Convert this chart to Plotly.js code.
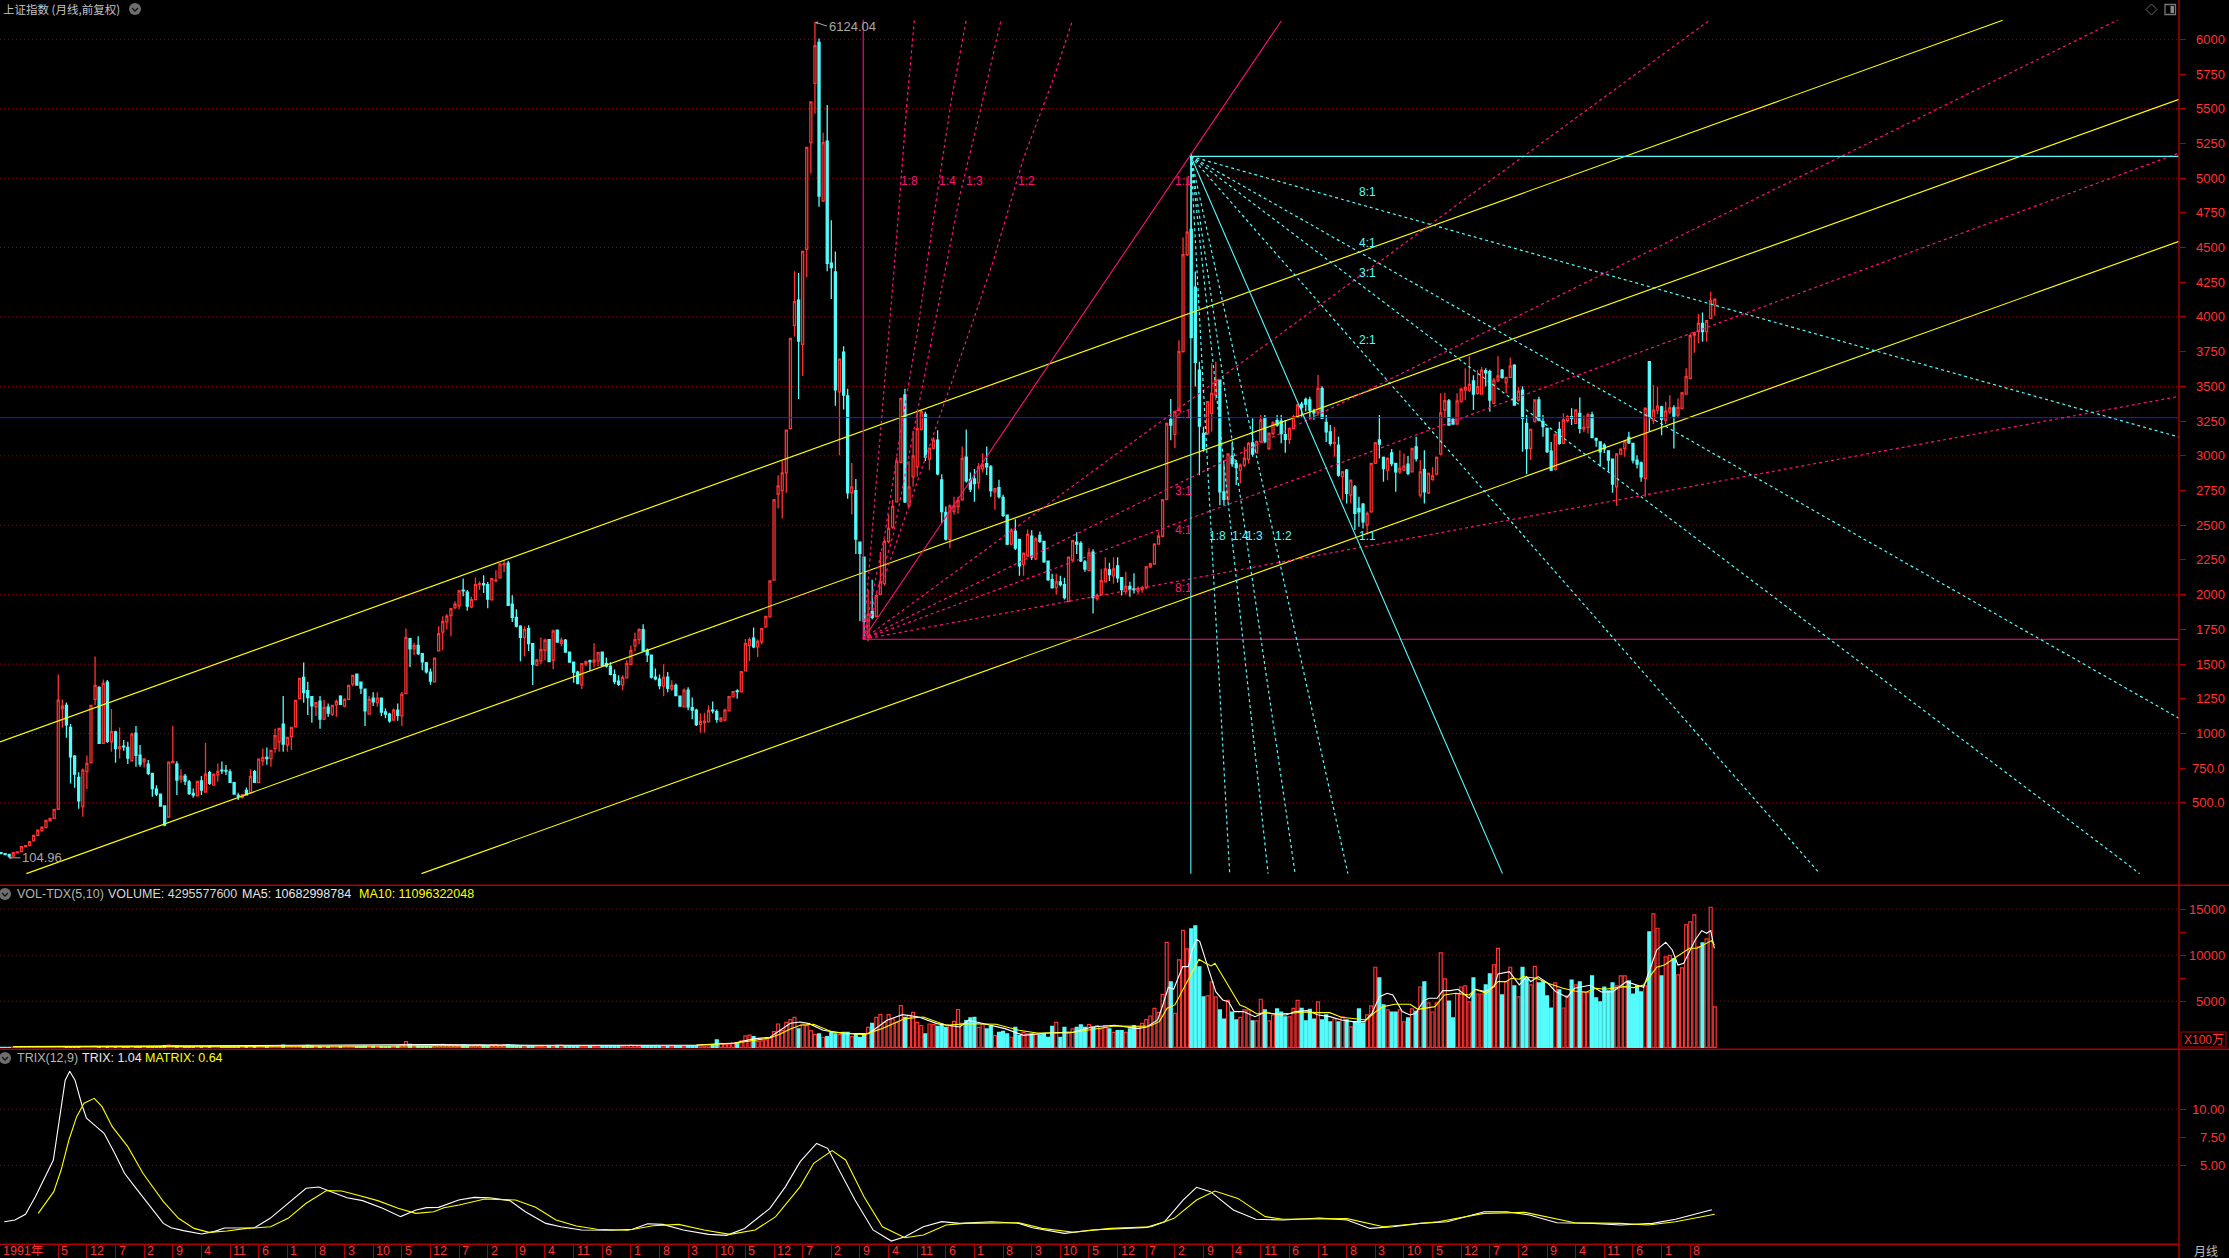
<!DOCTYPE html>
<html><head><meta charset="utf-8">
<script src="https://cdn.plot.ly/plotly-3.0.1.min.js"></script>
<style>html,body{margin:0;padding:0;background:#000}#c{width:2229px;height:1258px}</style>
</head><body><div id="c"></div>
<script>
// [open, high, low, close], one list per stretch of the chart
const ohlc1990s=[[142,145,133,135],[135,136,127,128],[129,130,105,118],[118,145,116,142],[140,150,138,148],[149,186,148,185],[185,194,184,192],[193,222,192,221],[228,267,226,266],[266,306,265,305],[300,326,299,325],[322,376,321,375],[372,390,371,389],[389,455,388,454],[456,1426,450,1241],[1178,1246,1042,1198],[1203,1224,970,1063],[1044,1068,641,833],[838,845,610,708],[684,722,459,516],[473,749,401,737],[725,842,600,785],[790,1205,785,1203],[1246,1555,1205,1347],[1332,1340,925,929],[929,1390,925,1361],[1370,1385,934,943],[941,1176,869,1013],[1011,1020,790,891],[891,1044,821,903],[910,953,876,905],[900,941,780,823],[804,1008,800,996],[1003,1054,761,843],[845,917,761,780],[797,818,756,818],[780,809,701,713],[713,713,545,603],[600,627,550,564],[564,564,473,478],[478,480,333,341],[399,796,396,794],[790,1054,790,800],[780,800,557,665],[672,744,646,694],[694,708,629,658],[651,665,557,569],[569,605,538,557],[552,660,550,655],[658,694,557,593],[579,931,575,708],[718,732,629,641],[629,713,624,706],[703,785,653,727],[737,799,708,732],[734,773,701,730],[723,742,643,648],[646,653,564,564],[555,574,521,550],[540,564,533,559],[590,612,557,559],[574,742,572,689],[725,737,645,648],[646,818,645,816],[804,893,768,828],[828,900,775,819],[819,879,761,879],[891,1037,862,984],[941,1042,869,1037],[1068,1270,869,924],[919,972,869,972],[977,1044,881,1044],[1049,1239,1049,1239],[1251,1400,1245,1397],[1404,1512,1222,1294],[1308,1373,1133,1258],[1265,1270,1078,1200],[1193,1222,1126,1222],[1234,1270,1035,1104],[1104,1241,1097,1188],[1190,1217,1121,1147],[1140,1205,1126,1203],[1207,1246,1121,1231],[1270,1275,1205,1210],[1198,1255,1192,1246],[1246,1350,1245,1347],[1356,1424,1340,1419],[1428,1430,1345,1349],[1371,1375,1284,1327],[1320,1320,1054,1164],[1140,1270,1135,1246],[1255,1298,1198,1229],[1222,1298,1193,1255],[1255,1260,1126,1155],[1155,1181,1111,1140],[1140,1150,1078,1092],[1097,1181,1092,1169],[1169,1217,1092,1131]];
const ohlc2000s=[[1127,1300,1055,1283],[1288,1756,1285,1692],[1684,1690,1480,1610],[1610,1653,1565,1634],[1634,1701,1565,1576],[1576,1576,1456,1516],[1509,1516,1432,1444],[1442,1468,1351,1377],[1372,1548,1370,1543],[1595,1773,1590,1720],[1730,1845,1600,1807],[1804,1860,1749,1845],[1850,1905,1701,1900],[1907,1953,1895,1931],[1919,2033,1895,2028],[2033,2116,1989,2028],[2018,2033,1884,1917],[1912,1985,1903,1965],[1965,2124,1965,2073],[2073,2097,2033,2080],[2080,2140,2013,2071],[2073,2092,1903,1968],[1963,2121,1963,2116],[2100,2176,2090,2104],[2121,2229,2120,2220],[2215,2244,2162,2224],[2227,2245,1920,1924],[1931,1996,1804,1836],[1836,1895,1763,1773],[1773,1780,1521,1692],[1692,1773,1557,1749],[1756,1780,1595,1648],[1648,1648,1350,1499],[1492,1538,1485,1528],[1523,1691,1500,1605],[1600,1684,1528,1672],[1677,1680,1514,1518],[1528,1749,1463,1737],[1744,1749,1653,1658],[1650,1691,1629,1672],[1672,1680,1583,1586],[1586,1586,1511,1514],[1514,1514,1365,1442],[1442,1452,1355,1360],[1350,1505,1320,1504],[1502,1523,1485,1519],[1523,1533,1452,1519],[1514,1650,1475,1528],[1523,1585,1485,1583],[1586,1588,1488,1490],[1504,1548,1475,1485],[1485,1514,1420,1427],[1425,1461,1355,1374],[1377,1420,1343,1355],[1351,1420,1312,1404],[1401,1528,1399,1504],[1497,1634,1495,1598],[1631,1727,1595,1677],[1677,1759,1643,1749],[1749,1788,1590,1595],[1600,1612,1516,1567],[1564,1567,1396,1406],[1406,1468,1384,1394],[1391,1425,1319,1346],[1341,1499,1269,1404],[1406,1444,1298,1326],[1322,1384,1307,1346],[1346,1360,1271,1274],[1269,1272,1195,1197],[1192,1324,1190,1312],[1312,1334,1168,1192],[1187,1259,1103,1168],[1168,1178,1055,1065],[1065,1147,1007,1087],[1079,1150,1007,1089],[1084,1204,1083,1166],[1168,1230,1144,1163],[1158,1173,1077,1103],[1089,1120,1081,1110],[1096,1178,1086,1168],[1163,1268,1162,1266],[1264,1304,1262,1302],[1307,1319,1250,1302],[1300,1447,1298,1446],[1451,1680,1450,1648],[1636,1691,1523,1677],[1687,1764,1614,1624],[1624,1677,1552,1663],[1660,1758,1643,1756],[1768,1845,1762,1843],[1840,2100,1838,2100],[2105,2690,2100,2683],[2725,2860,2620,2783],[2749,2962,2549,2877],[2877,3190,2734,3185],[3196,3850,3190,3845],[3940,4330,3860,4110],[4122,4316,3410,3826],[3803,4475,3575,4472],[4487,5225,4287,5222],[5256,5550,5033,5549],[5683,6124,5464,5954],[5977,6005,4794,4871],[4837,5327,4828,5256],[5267,5526,4330,4387],[4387,4697,4130,4355],[4324,4472,3361,3475],[3461,3700,3005,3697],[3746,3789,3333,3438],[3432,3484,2691,2734],[2734,2948,2578,2777],[2749,2834,2293,2401],[2378,2380,1808,2298],[2270,2270,1700,1808]];
const ohlc2010s=[[1695,2037,1664,1860],[1880,2108,1823,1837],[1843,2008,1840,1993],[2002,2307,1998,2093],[2079,2400,2065,2384],[2384,2578,2370,2478],[2487,2683,2475,2635],[2669,2990,2665,2962],[2954,3420,2950,3412],[3438,3484,2660,2669],[2640,2962,2630,2777],[2848,3180,2780,2999],[2920,3333,2850,3196],[3190,3333,3180,3318],[3298,3318,2962,2991],[2977,3060,2897,3056],[3056,3133,3050,3113],[3113,3185,2860,2871],[2826,2868,2515,2598],[2592,2635,2390,2401],[2398,2650,2335,2640],[2600,2706,2578,2640],[2635,2706,2583,2678],[2683,3068,2677,2982],[2991,3190,2806,2820],[2830,2880,2740,2760],[2834,2905,2670,2800],[2806,2948,2763,2920],[2906,3019,2880,2934],[2943,3068,2862,2920],[2920,2934,2706,2749],[2740,2770,2612,2763],[2771,2828,2692,2706],[2700,2720,2560,2572],[2572,2578,2356,2364],[2364,2478,2356,2464],[2458,2544,2321,2336],[2398,2400,2136,2207],[2219,2300,2136,2299],[2279,2470,2270,2435],[2421,2464,2250,2270],[2259,2413,2250,2401],[2427,2455,2372,2384],[2384,2384,2230,2236],[2242,2245,2099,2108],[2108,2150,2042,2051],[2051,2150,2002,2093],[2093,2136,2059,2073],[2073,2122,1965,1979],[1951,2275,1945,2270],[2250,2393,2240,2390],[2378,2450,2293,2364],[2370,2384,2236,2244],[2236,2250,2165,2185],[2173,2335,2170,2301],[2307,2327,1865,1979],[1971,2008,1957,1994],[2000,2187,1997,2102],[2093,2270,2090,2185],[2179,2230,2099,2145],[2136,2270,2079,2185],[2207,2270,2088,2122],[2122,2128,1994,2037],[2022,2165,2002,2059],[2059,2093,1985,2037],[2042,2155,2008,2037],[2025,2059,2002,2045],[2037,2065,2014,2051],[2051,2207,2040,2201],[2201,2230,2190,2221],[2221,2370,2215,2364],[2364,2450,2360,2421],[2421,2690,2415,2683],[2686,3240,2680,3233],[3262,3409,3113,3222],[3154,3320,3054,3318],[3327,3833,3320,3751],[3751,4572,3745,4449],[4449,5000,4440,4611],[4631,5178,3848,3851],[4215,4327,3500,3673],[3618,3678,2861,3214],[3161,3210,3030,3053],[3161,3395,3150,3390],[3306,3666,3175,3450],[3438,3678,3400,3546],[3546,3550,2645,2741],[2741,2945,2645,2686],[2686,3020,2660,3012],[2998,3094,2921,2945],[2945,2970,2790,2916],[2897,2945,2801,2933],[2933,3066,2920,2981],[2974,3102,2945,3090],[3094,3270,2993,3013],[3022,3110,3017,3102],[3102,3294,3095,3258],[3270,3294,3090,3102],[3053,3170,3040,3161],[3161,3250,3150,3238],[3253,3295,3210,3222],[3250,3294,3090,3161],[3152,3258,3022,3118],[3118,3200,3085,3197],[3197,3294,3190,3282],[3277,3375,3270,3366],[3373,3390,3282,3349],[3406,3420,3320,3373],[3402,3425,3262,3330],[3318,3340,3260,3310],[3310,3582,3290,3486],[3486,3502,3265,3270],[3241,3294,3100,3173],[3173,3222,3073,3090],[3090,3210,2993,3097],[3077,3140,2850,2861],[2850,2890,2681,2885],[2897,2905,2657,2729],[2717,2830,2657,2825],[2777,2790,2465,2585],[2621,2705,2489,2597],[2652,2660,2477,2525],[2501,2600,2441,2585],[2597,2950,2590,2946],[2946,3100,2941,3094]];
const ohlc2020s=[[3114,3294,2980,3085],[2989,2995,2813,2909],[2897,2990,2825,2981],[3022,3050,2925,2945],[2945,2950,2741,2885],[2885,3041,2870,2909],[2897,3017,2890,2926],[2940,2998,2860,2873],[2885,3055,2880,3053],[3065,3137,2960,2981],[2717,2970,2700,2885],[2902,3041,2657,2741],[2734,2880,2725,2873],[2830,2920,2820,2856],[2869,2995,2860,2989],[3013,3450,3005,3310],[3330,3455,3270,3397],[3395,3410,3218,3222],[3262,3270,3225,3229],[3229,3450,3225,3395],[3390,3490,3385,3481],[3474,3630,3400,3493],[3474,3718,3460,3515],[3539,3580,3330,3445],[3450,3618,3440,3498],[3445,3640,3440,3618],[3613,3630,3500,3598],[3606,3620,3318,3402],[3378,3560,3370,3546],[3546,3718,3530,3575],[3618,3625,3555,3565],[3527,3570,3450,3565],[3565,3708,3560,3647],[3654,3660,3360,3366],[3402,3498,3390,3466],[3474,3502,3030,3270],[3234,3294,2868,3053],[3053,3195,2970,3190],[3246,3405,3240,3402],[3402,3425,3250,3258],[3246,3294,3138,3210],[3198,3205,3020,3030],[3034,3100,2890,2897],[2902,3160,2895,3154],[3190,3246,3080,3090],[3090,3306,3085,3258],[3253,3294,3240,3282],[3282,3342,3222,3270],[3234,3335,3230,3330],[3306,3420,3160,3198],[3195,3290,3170,3205],[3205,3310,3160,3294],[3294,3318,3125,3133],[3125,3130,3065,3113],[3101,3105,2921,3029],[3077,3090,3020,3050],[3036,3040,2885,2969],[2977,2980,2734,2797],[2777,3020,2638,3013],[3013,3055,3008,3049],[3053,3115,2993,3106],[3133,3173,3085,3094],[3089,3094,2945,2969],[2969,3005,2909,2940],[2950,2960,2813,2849],[2837,3350,2705,3342],[3678,3680,3173,3281],[3257,3510,3229,3329],[3329,3498,3300,3358],[3353,3360,3149,3262],[3257,3390,3229,3322],[3317,3437,3300,3346],[3346,3365,3053,3286],[3293,3413,3280,3349],[3341,3460,3335,3454],[3445,3630,3440,3570],[3558,3880,3550,3865],[3870,3894,3742,3886],[3894,4021,3810,3954],[3954,4033,3822,3894],[3894,3975,3822,3973],[3990,4182,3988,4117],[4086,4135,4009,4127]];

// volume in units of 100万
const volEarly=[5,5,8,10,12,15,15,20,20,25,25,30,30,35,30,60,40,40,35,30,40,55,80,90,85,70,75,70,65,60,55,50,50,45,40,35,40,35,45,70,180,230,150,120,90,70,60,50,55,60,75,110,70,60,55,50,45,40,50,60,70,90,120,150,130,110,130,170,190,240,160,130,100,120,160,200,170,110,100,90,80,120,110,90,100,130,120,100,90,140,110,90,80,70,60,70,90,120,280,610];
const volMiddle=[330,210,160,130,120,110,220,300,330,260,200,190,170,250,220,190,250,240,200,190,260,280,210,280,300,240,200,160,170,160,180,110,120,180,190,150,200,210,140,130,120,110,150,140,110,130,150,110,120,100,90,100,120,170,220,180,150,110,130,110,120,100,140,110,100,120,110,160,150,120,160,170,140,170,240,800,420,300,330,450,500,700,1230,1320,1150,650,700,800,1050,1700,2530,1800,2700,3000,3250];
const volBull=[2000,2530,2350,1810,1375,1450,1090,1160,1630,1450,1375,1630,1630,1160,1375,1090,1375,2170,2605,3260,3550,2715,3550,3080,2715,4525,3260,3475,3800,2715,2350,1450,2530,2460,2280,2530,2170,2350,2825,4090,2605,2895,3185,3260,2170,2530,1990,2280,1265,1630,1740,1450,1090,2170,1265,1630,1450,1450,1375,1340,1450,1090,2280,2715,1090,2170,1630,1990,2170,2425,2170,2460,2170,2350,1990,2350,1990,1630,1810,1810,1630,1990,2350,2200,2600,3000];
const volRecent=[3400,4235,3800,5755,11400,7095,3690,9485,12705,10680,12850,13180,8725,5465,5575,7095,5465,4055,3075,5105,3835,2970,3260,4055,4055,2860,2860,5215,4055,2860,3510,4165,3835,3295,3295,4235,5105,4235,2860,4125,3075,4925,2970,3510,2750,3075,2750,3295,2970,2210,2750,4165,2640,3510,4490,8690,7530,4600,4055,3835,3835,4055,2750,3185,4165,3910,6550,7095,4815,3835,4815,10245,7420,5030,3185,5790,6550,6660,4925,7530,5790,5790,6770,7965,8940,10750,5685,7095,8690,6660,5465,8690,7420,6770,8795,6985,7095,5575,4270,6985,6225,4270,5575,7310,6770,7095,6010,5935,7745,5360,4925,6550,6120,6985,6660,7745,7745,7205,5790,6660,6010,6660,12525,14480,12925,7745,9810,9990,9595,7855,8615,13285,13610,14370,10895,11330,11765,15205,4380];

const ma5Index=[3,40,41,60,100,105,130,150,170,179.3,184.3,188,190.5,193,195.4,197.6,201,206.5,212.1,216.6,220.4,224.4,228.8,234.4,236.6,240,245.5,250,255.6,262.3,266.7,272.3,277.9,280.1,282.8,284.2,285.4,286.7,288.9,290.3,291.2,292.3,293.1,294.5,295.9,297,298.7,300.1,301.5,303.8,306.6,309,311.8,314.1,316.4,319.3,322.1,324.9,327.7,330.5,333.3,335.2,337,338.9,340.3,342.6,344.5,345.9,347.8,349.2,351.1,352.5,354.3,356.2,359,360.4,362.8,365.1,366,368.8,371.2,373,374,375.8,378.2,380.1,382.9,384.7,388.5,391.3,394.1,397.4,401.6,403,404.8,407,408.6,410,411.4,414.2,415.8,417,418,418.9];
const ma5Values=[70,130,200,150,220,300,220,220,250,470,940,1085,1810,2605,2750,2570,1845,1485,1485,2930,3550,3295,2570,2210,2930,2570,2030,1300,1555,1665,2210,2390,2025,2210,2970,4780,6515,6300,8760,8760,10570,11730,11475,9485,7675,6045,5140,4960,3875,3875,3330,3800,3585,3510,3875,3980,3510,3330,2970,2785,2785,3690,5500,5865,5685,3875,3510,3690,5070,5320,5320,6155,6155,6300,5320,6300,6045,6590,7965,8215,6770,7675,7130,7675,6950,6045,5430,6405,6735,6010,6045,7130,6515,8400,10570,11405,10570,8940,9120,11655,12670,12380,12670,10750];
const ma10Index=[3,50,100,130,150,170,179.3,184.3,188,190.5,193,195.4,198.7,203.2,211,215.5,221,225.5,231.1,236.6,243.3,248.9,253.3,261.1,266.7,272.3,279,280.9,283.2,285.1,287,288.9,290.7,292.9,294.5,295.9,296.8,299.1,300.5,302.9,304.3,307.1,309,311.8,315.5,318.3,322.1,324.9,327.7,331.4,333.8,336.1,338,340.8,344.5,346.4,350.6,352.9,355.7,359,360.4,363.2,366,367.9,369.3,371.2,372.1,375.4,378.2,381.9,384.7,387.5,389.9,392.2,396.9,399.2,401.6,404.8,406.7,409.5,412.8,414.7,416.1,418.2,418.9];
const ma10Values=[60,130,180,200,220,230,435,795,1015,1450,1990,2390,2500,1665,1375,2030,3115,3295,2390,2570,2500,1845,1555,1555,1920,2315,2280,2315,2785,4235,4600,6225,7675,9555,9120,8835,9120,7385,6405,4600,4345,3620,3765,3620,3690,3835,3765,3765,3260,3075,2970,3875,4415,4670,4670,4125,4415,5685,5865,5685,6300,5865,7130,7130,7495,7385,7675,7495,6950,6405,6120,5975,6405,6300,6590,6480,6770,8690,8940,9775,10750,10750,11115,11585,11115];

const trixIndex=[0.8,3.4,6,8.4,12.8,14.7,15.7,16.8,18.1,19.7,20.9,23.3,25.2,27.8,30.2,32.7,35.9,39.7,41.6,44.6,49,52.1,54.6,58.4,62,65.8,70.8,74.6,77.7,80.8,84.6,88.4,93.3,97.7,101.5,104,107,111.9,115.7,119.4,124.4,128.2,133.2,136.9,141.9,149.4,154.4,158.1,161.8,166.8,173,177.4,181.8,188,191.8,195.4,199.4,202.1,205.4,208.8,213.2,217.7,221,225.5,230,234.4,242.2,248.9,252.2,260,266.7,280.1,284.5,289,292.3,295.7,301.3,306.8,313.5,322.4,329.1,334.7,340.3,346.9,353.6,362.6,368.1,373.7,380.4,389.3,396,403.8,409.4,418.3];
const trixValues=[-0.03,0.12,0.63,2.2,5.48,9.94,12.6,13.4,12.6,10.5,9.2,8.45,7.86,6.07,4.29,3.1,1.6,-0.18,-0.57,-0.83,-1.13,-0.92,-0.6,-0.57,-0.57,0.27,1.76,2.95,3.07,2.65,2.11,1.85,1.16,0.42,1.01,1.22,1.25,1.9,2.14,2.11,1.85,0.86,-0.18,-0.48,-0.77,-0.8,-0.71,-0.21,-0.27,-0.77,-1.16,-1.25,-0.63,1.16,3.1,5.33,6.96,6.52,4.29,1.9,-0.77,-1.76,-1.37,-0.48,-0.03,-0.18,-0.03,-0.18,-0.57,-1.07,-0.77,-0.54,-0.03,1.9,3.04,2.65,1.01,0.18,0.12,0.3,0.12,-0.63,-0.48,-0.18,-0.03,0.86,0.86,0.57,-0.12,-0.18,-0.33,-0.18,0.18,1.04];
const matrixIndex=[9.1,12.9,14.7,16.6,18.5,20.3,22.8,24.7,27.2,31,34.7,39.7,43.4,47.2,50.9,55.3,59.6,65.9,70.2,74.6,79.6,83.3,87.1,92.1,97.1,101.4,105.8,108.3,112,118.3,125.8,130.7,135.7,140.7,145.7,153.2,159.4,165.7,171.9,178.2,184.4,189.4,195.4,198.7,203.2,206.5,211,215.5,221,225.5,231.1,235.5,248.9,254.5,262.3,271.2,281.2,286.8,292.3,296.8,302.4,309.1,313.5,329.1,338,351.4,362.6,372.6,384.8,396,402.7,409.4,419];
const matrixValues=[0.71,2.65,4.58,7.26,9.35,10.54,10.98,10.24,8.45,6.67,4.29,1.76,0.27,-0.63,-0.98,-0.86,-0.65,-0.48,0.27,1.61,2.74,2.71,2.35,1.85,1.16,0.71,0.86,1.22,1.46,1.99,1.9,1.25,0.12,-0.42,-0.71,-0.8,-0.39,-0.27,-0.77,-1.16,-0.77,0.42,3.1,5.18,6.31,5.48,2.2,-0.48,-1.46,-1.22,-0.33,-0.18,-0.12,-0.63,-0.98,-0.63,-0.48,0.27,1.9,2.71,2.05,0.42,0.18,0.24,-0.48,-0.03,0.71,0.8,-0.12,-0.18,-0.33,-0.03,0.64];

// axis tick values and labels
const priceTicks=[6000,5750,5500,5250,5000,4750,4500,4250,4000,3750,3500,3250,3000,2750,2500,2250,2000,1750,1500,1250,1000,750,500];
const priceLabels=['6000','5750','5500','5250','5000','4750','4500','4250','4000','3750','3500','3250','3000','2750','2500','2250','2000','1750','1500','1250','1000','750.0','500.0'];
const priceGrid=[6000,5500,5000,4500,4000,3500,3000,2500,2000,1500,1000,500];
const volTicks=[15000,12500,10000,7500,5000];
const volLabels=['15000','','10000','','5000'];
const volGrid=[15000,10000,5000];
const trixTicks=[10,7.5,5];
const trixLabels=['10.00','7.50','5.00'];
const trixGrid=[10,5];
const timeTicks=[14,21,28,35,42,49,56,63,70,77,84,91,98,105,112,119,126,133,140,147,154,161,168,175,182,189,196,203,210,217,224,231,238,245,252,259,266,273,280,287,294,301,308,315,322,329,336,343,350,357,364,371,378,385,392,399,406,413];
const timeLabels=['5','12','7','2','9','4','11','6','1','8','3','10','5','12','7','2','9','4','11','6','1','8','3','10','5','12','7','2','9','4','11','6','1','8','3','10','5','12','7','2','9','4','11','6','1','8','3','10','5','12','7','2','9','4','11','6','1','8'];

// drawn studies: [month index list, price list]
const channelTop=[[-0.24,489.4],[940,6137]];
const channelMid=[[6.2,532.5],[-9,5568]];
const channelLow=[[102.8,532.5],[-9,4545]];
const horizontalBlue=3275;
const riseFanSolid=[[210.8,313],[1679,6132]];
const riseRay18=[[210.8,212.9,215.3,218.6,221.4,223.3],[1679,2436,3293,4431,5512,6139]];
const riseRay14=[[210.8,216.1,219.8,223.9,228,232.4,236],[1679,2436,3149,3862,4712,5570,6139]];
const riseRay13=[[210.8,218.2,223.9,230,234.5,239.4,244.5],[1679,2436,3293,4201,4885,5483,6139]];
const riseRay12=[[210.8,220.6,229.6,237.7,242.6,250,257.3,262],[1679,2522,3293,3974,4403,5145,5714,6139]];
const riseRay21=[[210.8,417.8],[1679,6139]];
const riseRay31=[[210.8,517.5],[1679,6139]];
const riseRay41=[[210.8,532.5],[1679,5181]];
const riseRay81=[[210.8,532.5],[1679,3428]];
const riseBoxV=[[210.8,210.8],[1679,6140]];
const riseBoxH=[[210.8,532.5],[1679,1679]];
const fallOrigin=[290.9,5157];
const fallBoxV=[[290.9,290.9],[5157,-9]];
const fallBoxH=[[290.9,532.5],[5157,5157]];
const fallSolid=[[290.9,367.1],[5157,-9]];
const fallEndsX=[300.4,309.8,316.4,329.3,444.7,522.9,532.5,532.5];
const fallEndsY=[-9,-9,-9,-9,-9,-9,1110,3135];
const riseLabels=[['1:8',222,4979],['1:4',231.5,4979],['1:3',237.9,4979],['1:2',250.8,4979],['1:1',289.1,4979],['2:1',289.1,3302],['3:1',289.1,2748],['4:1',289.1,2468],['8:1',289.1,2050]];
const fallLabels=[['1:8',297.5,2423],['1:4',303,2423],['1:3',306.4,2423],['1:2',313.5,2423],['1:1',334.2,2423],['2:1',334.2,3831],['3:1',334.2,4316],['4:1',334.2,4532],['8:1',334.2,4900]];

const W=2229,H=1258,PLOT_R=2179;
const RED='#ff3232',CYAN='#54fcfc',DARK='#b00000',GRIDC='#a00000',PINK='#ff1278',YEL='#ffff00',GRAY='#a8a8a8';
const FONT='"Liberation Sans",Arial,sans-serif';
const ohlc=[...ohlc1990s,...ohlc2000s,...ohlc2010s,...ohlc2020s];
const volume=[...volEarly,...volMiddle,...volBull,...volRecent];
const idx=ohlc.map((_,i)=>i);
const px=x=>x/W, py=y=>1-y/H;

const traces=[];
const ln=(d,color,dash,width,extra)=>traces.push(Object.assign({type:'scatter',mode:'lines',x:d[0],y:d[1],line:{color,dash:dash||'solid',width:width||1},hoverinfo:'skip',showlegend:false,yaxis:'y',xaxis:'x'},extra||{}));

traces.push({type:'candlestick',x:idx,open:ohlc.map(r=>r[0]),high:ohlc.map(r=>r[1]),low:ohlc.map(r=>r[2]),close:ohlc.map(r=>r[3]),
  increasing:{line:{color:RED,width:1.3},fillcolor:'#000000'},decreasing:{line:{color:CYAN,width:1.3},fillcolor:CYAN},whiskerwidth:0,hoverinfo:'skip',showlegend:false,xaxis:'x',yaxis:'y'});

const DOT='3px,3px';
[channelTop,channelMid,channelLow].forEach(d=>ln(d,YEL,'solid',1.15));
ln([[-0.24,532.5],[horizontalBlue,horizontalBlue]],'#1a1aff','solid',1);
[riseBoxV,riseBoxH,riseFanSolid].forEach(d=>ln(d,PINK,'solid',1.1));
[riseRay18,riseRay14,riseRay13,riseRay12,riseRay21,riseRay31,riseRay41,riseRay81].forEach(d=>ln(d,PINK,DOT,1.2));
[fallBoxV,fallBoxH,fallSolid].forEach(d=>ln(d,CYAN,'solid',1.1));
fallEndsX.forEach((x,k)=>ln([[fallOrigin[0],x],[fallOrigin[1],fallEndsY[k]]],CYAN,DOT,1.2));

traces.push({type:'bar',x:idx,y:volume,width:0.72,xaxis:'x',yaxis:'y2',hoverinfo:'skip',showlegend:false,
  marker:{color:ohlc.map(r=>r[3]>=r[0]?'#000000':CYAN),line:{width:1.2,color:ohlc.map(r=>r[3]>=r[0]?RED:CYAN)}}});
ln([ma5Index,ma5Values],'#ffffff','solid',1.1,{yaxis:'y2'});
ln([ma10Index,ma10Values],YEL,'solid',1.1,{yaxis:'y2'});
ln([trixIndex,trixValues],'#ffffff','solid',1.1,{yaxis:'y3'});
ln([matrixIndex,matrixValues],YEL,'solid',1.1,{yaxis:'y3'});

// shapes
const shapes=[];
const gridline=(y,yref)=>shapes.push({type:'line',xref:'paper',x0:0,x1:px(PLOT_R),yref,y0:y,y1:y,layer:'below',line:{color:GRIDC,width:1,dash:'1px,3px'}});
priceGrid.forEach(v=>gridline(v,'y'));
volGrid.forEach(v=>gridline(v,'y2'));
trixGrid.forEach(v=>gridline(v,'y3'));
const sep=(x0,y0,x1,y1,w)=>shapes.push({type:'line',xref:'paper',yref:'paper',x0:px(x0),x1:px(x1),y0:py(y0),y1:py(y1),line:{color:DARK,width:w||1.6}});
sep(0,885.3,W,885.3);sep(0,1049.3,W,1049.3);sep(0,1244.3,PLOT_R,1244.3);sep(PLOT_R,0,PLOT_R,H,1.4);
const icon=(cx,cy)=>{
  shapes.push({type:'circle',xref:'paper',yref:'paper',x0:px(cx-6),x1:px(cx+6),y0:py(cy-6),y1:py(cy+6),fillcolor:'#6e6e6e',line:{width:0}});
  shapes.push({type:'path',xref:'paper',yref:'paper',path:`M${px(cx-3)},${py(cy-1)}L${px(cx)},${py(cy+2)}L${px(cx+3)},${py(cy-1)}`,line:{color:'#111',width:1.3}});
};
icon(135,9);icon(5,894);icon(5,1058);
shapes.push({type:'path',xref:'paper',yref:'paper',path:`M${px(2146)},${py(9.5)}L${px(2151.5)},${py(4)}L${px(2157)},${py(9.5)}L${px(2151.5)},${py(15)}Z`,line:{color:'#666',width:1}});
shapes.push({type:'rect',xref:'paper',yref:'paper',x0:px(2165),x1:px(2175.5),y0:py(4.5),y1:py(14.5),line:{color:'#777',width:1.3}});
shapes.push({type:'rect',xref:'paper',yref:'paper',x0:px(2170.5),x1:px(2174),y0:py(6),y1:py(13),fillcolor:'#888',line:{width:0}});
shapes.push({type:'rect',xref:'paper',yref:'paper',x0:px(2181),x1:px(2226),y0:py(1032),y1:py(1047),line:{color:DARK,width:1}});

// text
const ann=[];
const label=(t,x,y,color,size,font)=>ann.push({xref:'paper',yref:'paper',x:px(x),y:py(y),text:t,showarrow:false,xanchor:'left',yanchor:'middle',borderpad:0,font:{color,size,family:font||FONT}});
label('上证指数 (月线,前复权)',2,9,'#c4c4c4',11.5,'"Noto Sans CJK SC",sans-serif');
label('VOL-TDX(5,10)',16,894,'#b4b4b4',12.5);
label('VOLUME: 4295577600',107,894,'#d8d8d8',12.5);
label('MA5: 10682998784',241,894,'#e8e8e8',12.5);
label('MA10: 11096322048',358,894,YEL,12.5);
label('TRIX(12,9)',16,1058,'#b4b4b4',12.5);
label('TRIX: 1.04',81,1058,'#e8e8e8',12.5);
label('MATRIX: 0.64',144,1058,YEL,12.5);
label('1991年',2,1250.5,RED,12.5,'"Liberation Sans","Noto Sans CJK SC",sans-serif');
label('X100万',2183,1040,RED,12,'"Liberation Sans","Noto Sans CJK SC",sans-serif');
label('月线',2193,1250.5,'#bdbdbd',12,'"Noto Sans CJK SC",sans-serif');
timeTicks.forEach((t,k)=>ann.push({xref:'x',yref:'paper',x:t,y:py(1250.5),xshift:2,text:timeLabels[k],showarrow:false,xanchor:'left',yanchor:'middle',borderpad:0,font:{color:RED,size:12.5,family:FONT}}));
const rightLabels=(ticks,labels,yref)=>ticks.forEach((t,k)=>{if(labels[k])ann.push({xref:'paper',yref,x:px(2226),y:t,text:labels[k],showarrow:false,xanchor:'right',yanchor:'middle',borderpad:0,font:{color:RED,size:13,family:FONT}});});
rightLabels(priceTicks,priceLabels,'y');
rightLabels(volTicks,volLabels,'y2');
rightLabels(trixTicks,trixLabels,'y3');
riseLabels.forEach(r=>ann.push({xref:'x',yref:'y',x:r[1],y:r[2],text:r[0],showarrow:false,font:{color:PINK,size:12,family:FONT}}));
fallLabels.forEach(r=>ann.push({xref:'x',yref:'y',x:r[1],y:r[2],text:r[0],showarrow:false,font:{color:CYAN,size:12,family:FONT}}));
ann.push({xref:'x',yref:'y',x:199,y:6124,text:'6124.04',showarrow:true,arrowhead:2,arrowsize:0.6,arrowwidth:1,arrowcolor:GRAY,ax:12,ay:4,standoff:0,xanchor:'left',yanchor:'middle',font:{color:GRAY,size:13,family:FONT}});
ann.push({xref:'x',yref:'y',x:1.8,y:105,text:'104.96',showarrow:true,arrowhead:2,arrowsize:0.6,arrowwidth:1,arrowcolor:GRAY,ax:12,ay:0,standoff:0,xanchor:'left',yanchor:'middle',font:{color:GRAY,size:13,family:FONT}});

const yax=(dom,range,ticks)=>({domain:dom,range,side:'right',anchor:'x',fixedrange:true,showgrid:false,zeroline:false,showline:false,
  tickmode:'array',tickvals:ticks,showticklabels:false,ticks:'outside',ticklen:6,tickcolor:DARK});

const layout={width:W,height:H,margin:{l:0,r:0,t:0,b:0,pad:0},paper_bgcolor:'#000',plot_bgcolor:'#000',showlegend:false,bargap:0,
  xaxis:{domain:[0,PLOT_R/W],range:[-0.244,532.5],anchor:'y3',fixedrange:true,showgrid:false,zeroline:false,showline:false,
    rangeslider:{visible:false},tickmode:'array',tickvals:timeTicks,showticklabels:false,ticks:'outside',ticklen:13,tickcolor:DARK},
  yaxis:yax([py(885.3),1],[-93,6283],priceTicks),
  yaxis2:yax([py(1049.3),py(885.3)],[-217,17590],volTicks),
  yaxis3:yax([py(1244.3),py(1049.3)],[-2.05,15.36],trixTicks),
  shapes,annotations:ann};
Plotly.newPlot('c',traces,layout,{displayModeBar:false,staticPlot:true});
</script></body></html>
